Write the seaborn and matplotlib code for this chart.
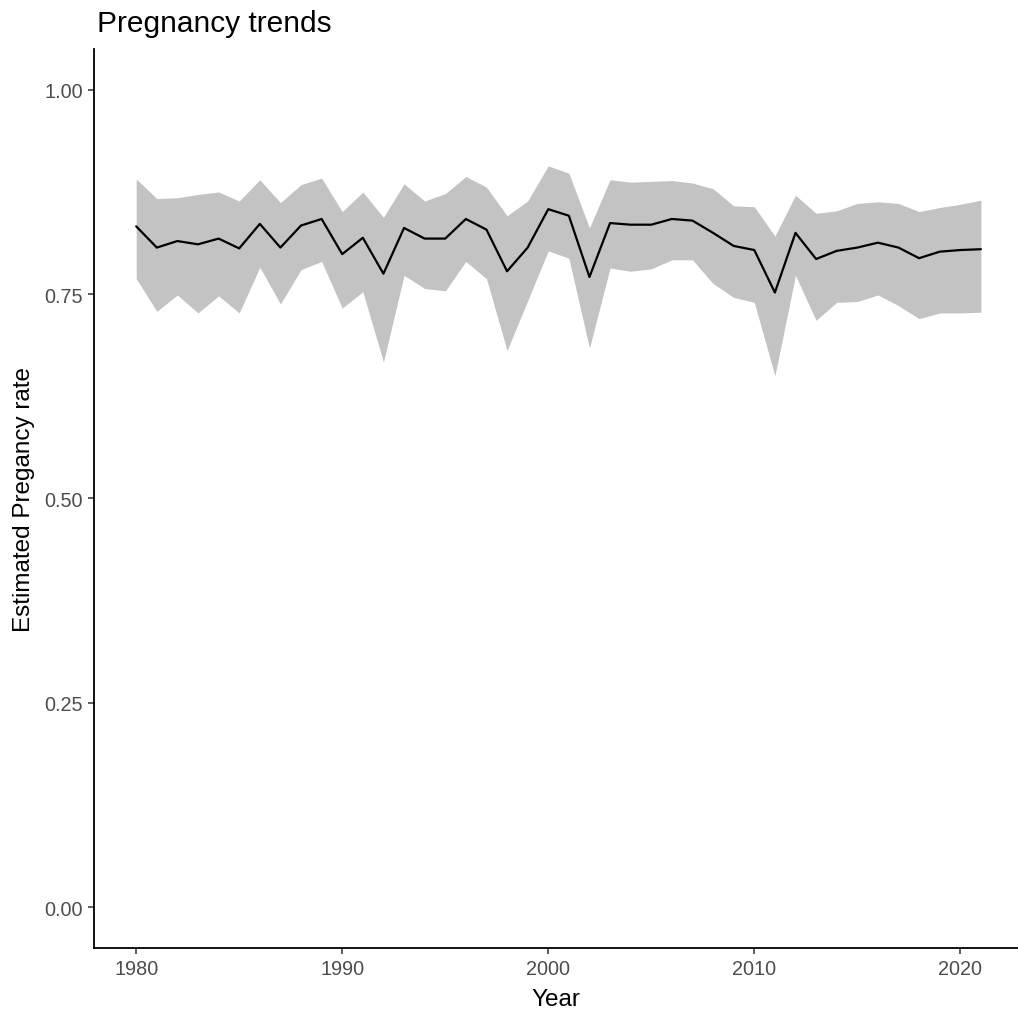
import numpy as np
import pandas as pd
import seaborn as sns
import matplotlib
matplotlib.use('Agg')
import matplotlib.pyplot as plt

# Values
years = list(range(1980, 2022))
estimate = [0.833, 0.807, 0.815, 0.811, 0.818, 0.806, 0.836, 0.807, 0.834, 0.842,
            0.799, 0.819, 0.775, 0.831, 0.818, 0.818, 0.842, 0.829, 0.778, 0.807,
            0.854, 0.846, 0.771, 0.837, 0.835, 0.835, 0.842, 0.840, 0.825, 0.809,
            0.804, 0.752, 0.825, 0.793, 0.803, 0.807, 0.813, 0.807, 0.794, 0.802,
            0.804, 0.805]
upper = [0.891, 0.867, 0.868, 0.872, 0.875, 0.864, 0.890, 0.862, 0.884, 0.892,
         0.851, 0.875, 0.844, 0.885, 0.864, 0.873, 0.894, 0.881, 0.846, 0.864,
         0.907, 0.898, 0.831, 0.890, 0.887, 0.888, 0.889, 0.886, 0.879, 0.858,
         0.857, 0.821, 0.871, 0.849, 0.852, 0.861, 0.863, 0.861, 0.851, 0.856,
         0.860, 0.865]
lower = [0.769, 0.729, 0.749, 0.727, 0.748, 0.727, 0.783, 0.738, 0.780, 0.790,
         0.733, 0.753, 0.667, 0.773, 0.757, 0.754, 0.790, 0.769, 0.681, 0.742,
         0.803, 0.794, 0.684, 0.782, 0.778, 0.781, 0.792, 0.792, 0.763, 0.746,
         0.740, 0.650, 0.773, 0.718, 0.740, 0.741, 0.749, 0.736, 0.720, 0.727,
         0.727, 0.728]
x_ticks = [1980, 1990, 2000, 2010, 2020]
y_ticks = [0.00, 0.25, 0.50, 0.75, 1.00]

df = pd.DataFrame({'Year': years, 'estimate': estimate, 'upper': upper, 'lower': lower})

sns.set_theme(style='ticks')
plt.rcParams['font.family'] = ['Liberation Sans', 'DejaVu Sans']

fig = plt.figure(figsize=(10.18, 10.12), dpi=100)
ax = fig.add_axes([0.0923, 0.0623, 0.9077, 0.8883])

ax.fill_between(df['Year'], df['lower'], df['upper'], color='#C3C3C3', linewidth=0, zorder=1)
sns.lineplot(data=df, x='Year', y='estimate', color='black', linewidth=1.6, ax=ax, zorder=2)

ax.set_xlim(1977.95, 2022.8)
ax.set_ylim(-0.05, 1.05)
ax.set_xticks(x_ticks)
ax.set_xticklabels([str(t) for t in x_ticks])
ax.set_yticks(y_ticks)
ax.set_yticklabels([f'{t:.2f}' for t in y_ticks])

ax.tick_params(axis='both', labelsize=14.3, labelcolor='#4D4D4D', color='#333333',
               length=4, width=1.1, pad=4)
for side in ['left', 'bottom']:
    ax.spines[side].set_linewidth(1.3)
    ax.spines[side].set_color('black')
sns.despine(ax=ax)

ax.set_xlabel('Year', fontsize=17.5, color='black', labelpad=7)
ax.set_ylabel('Estimated Pregancy rate', fontsize=17.5, color='black', labelpad=7)
fig.text(0.0955, 1 - 32 / 1012, 'Pregnancy trends', fontsize=21.5, color='black',
         ha='left', va='baseline')

fig.savefig('out.png', dpi=100)
